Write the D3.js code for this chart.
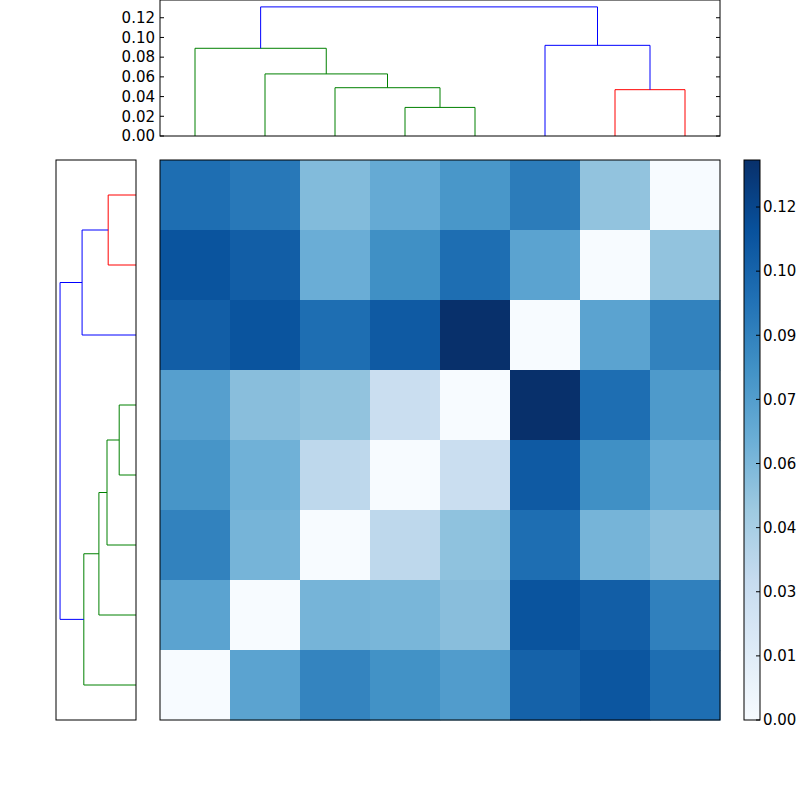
<!DOCTYPE html>
<html><head><meta charset="utf-8">
<script src="https://cdn.jsdelivr.net/npm/d3@7"></script>
<style>body{margin:0;background:#fff}svg{font-family:"DejaVu Sans",sans-serif}</style>
</head><body>
<svg id="chart" width="800" height="800"></svg>
<script>
// distance matrix, rows top to bottom, columns left to right
const matrix = [
  [0.100, 0.095, 0.058, 0.068, 0.079, 0.093, 0.053, 0.000],
  [0.113, 0.108, 0.066, 0.083, 0.100, 0.072, 0.000, 0.053],
  [0.108, 0.113, 0.100, 0.110, 0.131, 0.000, 0.072, 0.090],
  [0.074, 0.056, 0.053, 0.030, 0.000, 0.131, 0.100, 0.077],
  [0.080, 0.064, 0.036, 0.000, 0.030, 0.110, 0.083, 0.068],
  [0.090, 0.062, 0.000, 0.036, 0.054, 0.100, 0.062, 0.056],
  [0.072, 0.000, 0.062, 0.061, 0.056, 0.113, 0.108, 0.091],
  [0.000, 0.072, 0.089, 0.082, 0.076, 0.106, 0.112, 0.100]
];
const vmax = 0.131;
// dendrogram links: leaf coords (5..75) and heights
const topLinks = [
  {i: [35, 35, 45, 45], d: [0, 0.029, 0.029, 0], c: "green"},
  {i: [25, 25, 40, 40], d: [0, 0.049, 0.049, 0.029], c: "green"},
  {i: [15, 15, 32.5, 32.5], d: [0, 0.063, 0.063, 0.049], c: "green"},
  {i: [5, 5, 23.75, 23.75], d: [0, 0.089, 0.089, 0.063], c: "green"},
  {i: [65, 65, 75, 75], d: [0, 0.047, 0.047, 0], c: "red"},
  {i: [55, 55, 70, 70], d: [0, 0.092, 0.092, 0.047], c: "blue"},
  {i: [14.375, 14.375, 62.5, 62.5], d: [0.089, 0.131, 0.131, 0.092], c: "blue"}
];
const leftLinks = [
  {i: [5, 5, 15, 15], d: [0, 0.048, 0.048, 0], c: "red"},
  {i: [10, 10, 25, 25], d: [0.048, 0.093, 0.093, 0], c: "blue"},
  {i: [35, 35, 45, 45], d: [0, 0.029, 0.029, 0], c: "green"},
  {i: [40, 40, 55, 55], d: [0.029, 0.050, 0.050, 0], c: "green"},
  {i: [47.5, 47.5, 65, 65], d: [0.050, 0.064, 0.064, 0], c: "green"},
  {i: [56.25, 56.25, 75, 75], d: [0.064, 0.090, 0.090, 0], c: "green"},
  {i: [17.5, 17.5, 65.625, 65.625], d: [0.093, 0.131, 0.131, 0.090], c: "blue"}
];
const topTicks = [0, 0.02, 0.04, 0.06, 0.08, 0.10, 0.12];
const cbTicks = [0, 0.015, 0.03, 0.045, 0.06, 0.075, 0.09, 0.105, 0.12];
const cbLabels = ["0.00", "0.01", "0.03", "0.04", "0.06", "0.07", "0.09", "0.10", "0.12"];
const linkColor = {green: "#008000", red: "#ff0000", blue: "#0000ff"};
const blues = ["#f7fbff", "#deebf7", "#c6dbef", "#9ecae1", "#6baed6", "#4292c6", "#2171b5", "#08519c", "#08306b"];

const svg = d3.select("#chart");
const interp = d3.piecewise(d3.interpolateRgb, blues);
const color = d3.scaleSequential(interp).domain([0, vmax]);

// heatmap
const hx = d3.scaleBand().domain(d3.range(8)).range([160, 720]);
const hy = d3.scaleBand().domain(d3.range(8)).range([160, 720]);
matrix.forEach((row, r) => row.forEach((v, c) => {
  svg.append("rect").attr("x", hx(c)).attr("y", hy(r))
    .attr("width", hx.bandwidth() + 0.5).attr("height", hy.bandwidth() + 0.5)
    .attr("fill", color(v));
}));
svg.append("rect").attr("x", 160).attr("y", 160).attr("width", 560).attr("height", 560)
  .attr("fill", "none").attr("stroke", "#000");

// top dendrogram
const tx = d3.scaleLinear().domain([0, 80]).range([160, 720]);
const ty = d3.scaleLinear().domain([0, 0.138]).range([136, 0]);
topLinks.forEach(l => {
  svg.append("path").attr("fill", "none").attr("stroke", linkColor[l.c])
    .attr("d", d3.line()(l.i.map((x, k) => [tx(x), ty(l.d[k])])));
});
svg.append("rect").attr("x", 160).attr("y", 0).attr("width", 560).attr("height", 136)
  .attr("fill", "none").attr("stroke", "#000");
topTicks.forEach(t => {
  const y = ty(t);
  svg.append("line").attr("x1", 160).attr("x2", 164).attr("y1", y).attr("y2", y).attr("stroke", "#000");
  svg.append("line").attr("x1", 716).attr("x2", 720).attr("y1", y).attr("y2", y).attr("stroke", "#000");
  svg.append("text").attr("x", 155).attr("y", y).attr("dy", "0.35em").attr("text-anchor", "end")
    .attr("font-size", 15).text(t.toFixed(2));
});

// left dendrogram
const ly = d3.scaleLinear().domain([0, 80]).range([160, 720]);
const lx = d3.scaleLinear().domain([0, 0.138]).range([136, 56]);
leftLinks.forEach(l => {
  svg.append("path").attr("fill", "none").attr("stroke", linkColor[l.c])
    .attr("d", d3.line()(l.i.map((y, k) => [lx(l.d[k]), ly(y)])));
});
svg.append("rect").attr("x", 56).attr("y", 160).attr("width", 80).attr("height", 560)
  .attr("fill", "none").attr("stroke", "#000");

// colorbar
const cy = d3.scaleLinear().domain([0, vmax]).range([720, 160]);
const grad = svg.append("defs").append("linearGradient").attr("id", "cb")
  .attr("x1", 0).attr("y1", 1).attr("x2", 0).attr("y2", 0);
blues.forEach((c, k) => grad.append("stop").attr("offset", k / 8).attr("stop-color", c));
svg.append("rect").attr("x", 744).attr("y", 160).attr("width", 16).attr("height", 560)
  .attr("fill", "url(#cb)").attr("stroke", "#000");
cbTicks.forEach((t, k) => {
  const y = cy(t);
  svg.append("line").attr("x1", 756).attr("x2", 760).attr("y1", y).attr("y2", y).attr("stroke", "#000");
  svg.append("text").attr("x", 763).attr("y", y).attr("dy", "0.35em")
    .attr("font-size", 15).text(cbLabels[k]);
});
</script>
</body></html>
